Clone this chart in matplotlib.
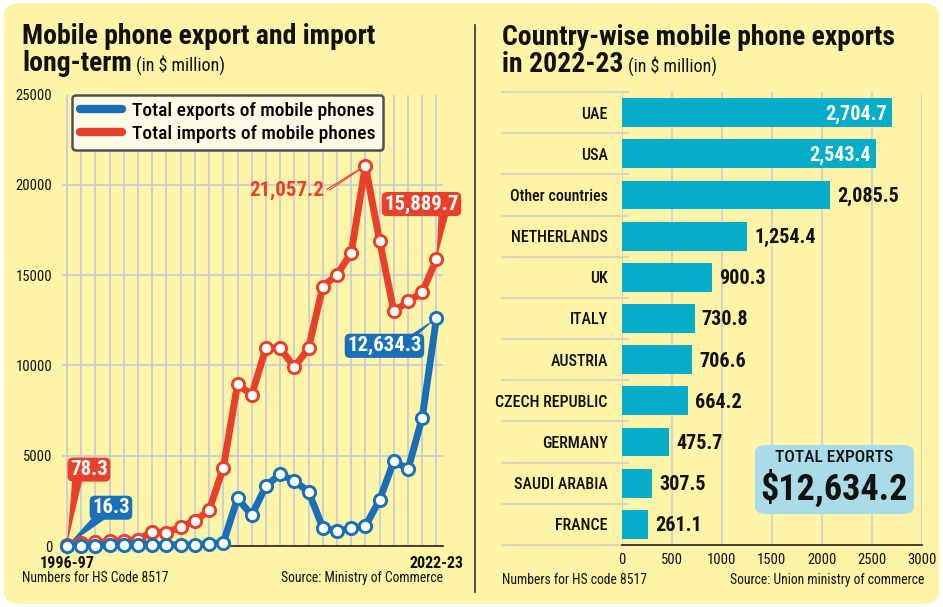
import matplotlib
matplotlib.use('Agg')
import matplotlib.pyplot as plt
from matplotlib import font_manager as fm
from matplotlib import transforms
from matplotlib.lines import Line2D
from matplotlib.patches import FancyBboxPatch
import numpy as np

# Data (in $ million)
years = [f'{y}-{(y + 1) % 100:02d}' for y in range(1996, 2023)]
exports = [16.3, 20, 25, 30, 35, 40, 50, 50, 55, 60, 130, 180, 2640, 1700,
           3330, 3970, 3600, 3010, 1015, 830, 980, 1110, 2550, 4710, 4250,
           7110, 12634.3]
imports = [78.3, 150, 200, 250, 300, 350, 780, 740, 1050, 1390, 1980, 4320,
           8960, 8370, 10960, 10960, 9890, 10960, 14360, 15020, 16220,
           21057.2, 16900, 12990, 13540, 14040, 15889.7]

countries = ['UAE', 'USA', 'Other countries', 'NETHERLANDS', 'UK', 'ITALY',
             'AUSTRIA', 'CZECH REPUBLIC', 'GERMANY', 'SAUDI ARABIA', 'FRANCE']
country_exports = [2704.7, 2543.4, 2085.5, 1254.4, 900.3, 730.8, 706.6,
                   664.2, 475.7, 307.5, 261.1]
total_exports = 12634.2

# Colours
BG = '#fdf4a8'
BLUE = '#1a70b8'
RED = '#e8402a'
TEAL = '#06adca'
GRID = '#c8ccd6'
GRID2 = '#d8d5c2'
INK = '#111111'


def pick_font():
    """Pick a condensed family if one is installed"""
    for fam in ['Roboto Condensed', 'Noto Sans Condensed', 'Open Sans Condensed',
                'Liberation Sans Narrow']:
        try:
            fm.findfont(fm.FontProperties(family=fam), fallback_to_default=False)
            return fam
        except ValueError:
            pass
    return 'DejaVu Sans'


FONT = pick_font()
plt.rcParams['font.family'] = [FONT, 'DejaVu Sans']
plt.rcParams['font.stretch'] = 'condensed'

W, H = 943, 607
fig = plt.figure(figsize=(W / 100, H / 100), dpi=100, facecolor='white')


def fx(px):
    return px / W


def fy(py):
    return 1 - py / H


# yellow panel
fig.patches.append(FancyBboxPatch((0.004, 0.005), 0.992, 0.99,
                                  boxstyle='round,pad=0,rounding_size=0.02',
                                  transform=fig.transFigure, fc=BG, ec='none',
                                  zorder=-10))
# divider
fig.add_artist(Line2D([fx(475), fx(475)], [fy(25), fy(592)], color='#333333',
                      lw=1.2, transform=fig.transFigure))

# ============================================================================
# Titles
# ============================================================================
renderer = fig.canvas.get_renderer()


def title(x, y1, y2, line1, line2, sub):
    fig.text(fx(x), fy(y1), line1, fontsize=20, fontweight='bold', color=INK,
             va='baseline')
    t2 = fig.text(fx(x), fy(y2), line2, fontsize=20, fontweight='bold',
                  color=INK, va='baseline')
    bb = t2.get_window_extent(renderer)
    fig.text(bb.x1 / W + fx(4), fy(y2), sub, fontsize=13, color=INK,
             va='baseline')


title(22, 44, 71, 'Mobile phone export and import', 'long-term',
      '(in $ million)')
title(502, 45, 72, 'Country-wise mobile phone exports', 'in 2022-23',
      '(in $ million)')

# ============================================================================
# Left: line chart
# ============================================================================
ax1 = fig.add_axes([fx(62), fy(546), fx(381), 451.5 / H])
ax1.set_facecolor('none')
x = np.arange(len(years))
ax1.plot(x, imports, color=RED, lw=5, marker='o', ms=8.8, mfc='white',
         mec=RED, mew=2.1, solid_joinstyle='round', clip_on=False, zorder=3)
ax1.plot(x, exports, color=BLUE, lw=5, marker='o', ms=8.8, mfc='white',
         mec=BLUE, mew=2.1, solid_joinstyle='round', clip_on=False, zorder=4)
ax1.set_xlim(-0.35, 26.46)
ax1.set_ylim(0, 25000)
ax1.set_xticks(x, [years[0]] + [''] * (len(years) - 2) + [years[-1]],
               fontweight='bold')
ax1.set_yticks(np.arange(0, 25001, 5000))
ax1.tick_params(axis='both', length=0, colors=INK)
ax1.tick_params(axis='x', pad=7, labelsize=11.5)
ax1.tick_params(axis='y', pad=7, labelsize=10.5)
ax1.grid(True, color=GRID, lw=1.3)
ax1.set_axisbelow(True)
for s in ['left', 'right', 'top']:
    ax1.spines[s].set_visible(False)
ax1.spines['bottom'].set_color('#222222')
ax1.spines['bottom'].set_linewidth(1.2)

leg_handles = [Line2D([], [], color=BLUE, lw=6, solid_capstyle='round'),
               Line2D([], [], color=RED, lw=6, solid_capstyle='round')]
leg = ax1.legend(leg_handles, ['Total exports of mobile phones',
                               'Total imports of mobile phones'],
                 loc='upper left', bbox_to_anchor=(0.026, 1.0),
                 borderaxespad=0, fontsize=14, handlelength=2.2,
                 handletextpad=0.5, labelspacing=0.22, borderpad=0.4,
                 fancybox=True, framealpha=1)
leg.get_frame().set_facecolor('#fdfbe6')
leg.get_frame().set_edgecolor('#4b5358')
leg.get_frame().set_linewidth(1.8)
for t in leg.get_texts():
    t.set_fontweight('medium')


def tag(ax, text, xy, off, color, relpos, width=0.5):
    ax.annotate(text, xy=xy, xytext=off, textcoords='offset pixels',
                ha='center', va='center', fontsize=15, fontweight='bold',
                color='white', zorder=2,
                bbox=dict(boxstyle='round,pad=0.12,rounding_size=0.25',
                          fc=color, ec='none'),
                arrowprops=dict(arrowstyle=f'wedge,tail_width={width}',
                                fc=color, ec='none', relpos=relpos,
                                shrinkA=0, shrinkB=0, patchA=None))


tag(ax1, f'{imports[0]:,.1f}', (0, imports[0]), (22, 75), RED, (0.2, 0.1))
tag(ax1, f'{exports[0]:,.1f}', (0, exports[0]), (44, 38), BLUE, (0.25, 0.1))
tag(ax1, f'{imports[-1]:,.1f}', (26, imports[-1]), (-15, 55), RED, (0.8, 0.1))
tag(ax1, f'{exports[-1]:,.1f}', (26, exports[-1]), (-52, -28), BLUE,
    (0.85, 0.9), width=0.25)

peak = int(np.argmax(imports))
for rp in [(1, 0.35), (1, 0.65)]:
    ax1.annotate(f'{imports[peak]:,.1f}' if rp[1] < 0.5 else '',
                 xy=(peak, imports[peak]), xytext=(-41, -25),
                 textcoords='offset pixels', ha='right', va='center',
                 fontsize=15, fontweight='bold', color=RED, zorder=2,
                 arrowprops=dict(arrowstyle='-', color=RED, lw=0.8,
                                 relpos=rp, shrinkA=2, shrinkB=0))

fig.text(fx(22), fy(578), 'Numbers for HS Code 8517', fontsize=9.8,
         color=INK, va='center')
fig.text(fx(443), fy(578), 'Source: Ministry of Commerce', fontsize=9.8,
         color=INK, va='center', ha='right')

# ============================================================================
# Right: horizontal bars
# ============================================================================
ax2 = fig.add_axes([fx(621.7), fy(545), fx(300), 453 / H])
ax2.set_facecolor('none')
y = np.arange(len(countries))
ax2.barh(y, country_exports, height=0.7, color=TEAL, zorder=3)
ax2.set_xlim(0, 3000)
ax2.set_ylim(10.5, -0.5)
ax2.set_xticks(np.arange(0, 3001, 500))
ax2.set_yticks(y, countries, fontweight='medium')
ax2.tick_params(axis='y', length=0, pad=10, labelsize=11.5, colors=INK)
ax2.tick_params(axis='x', length=0, pad=6, labelsize=10.5, colors=INK)
ax2.grid(True, axis='x', color=GRID2, lw=1.5)
ax2.set_axisbelow(True)
for s in ['left', 'right', 'top']:
    ax2.spines[s].set_visible(False)
ax2.spines['bottom'].set_color('#222222')
ax2.spines['bottom'].set_linewidth(1.2)

trans = transforms.blended_transform_factory(ax2.transAxes, ax2.transData)
for b in np.arange(-0.5, len(countries)):
    ax2.plot([-0.4, 0.02], [b, b], color=GRID2, lw=1.5, transform=trans,
             clip_on=False, zorder=1)

for i, v in enumerate(country_exports):
    inside = i < 2
    ax2.annotate(f'{v:,.1f}', xy=(v, i), xytext=(-4 if inside else 5, -1),
                 textcoords='offset points', ha='right' if inside else 'left',
                 va='center', fontsize=14.5, fontweight='bold',
                 color='white' if inside else INK, zorder=4)

fig.patches.append(FancyBboxPatch((fx(755), fy(514)), fx(159), 69 / H,
                                  boxstyle='round,pad=0,rounding_size=0.012',
                                  transform=fig.transFigure, fc='#a9dbe9',
                                  ec='none', zorder=5))
fig.text(fx(834.5), fy(458), 'TOTAL EXPORTS', fontsize=12.5,
         fontweight='medium', ha='center', va='center', color=INK, zorder=6)
fig.text(fx(834.5), fy(489), f'${total_exports:,.1f}', fontsize=26,
         fontweight='bold', ha='center', va='center', color=INK, zorder=6)

fig.text(fx(502), fy(580), 'Numbers for HS code 8517', fontsize=9.8,
         color=INK, va='center')
fig.text(fx(924), fy(580), 'Source: Union ministry of commerce', fontsize=9.8,
         color=INK, va='center', ha='right')

plt.savefig('out.png', dpi=100, facecolor='white')
